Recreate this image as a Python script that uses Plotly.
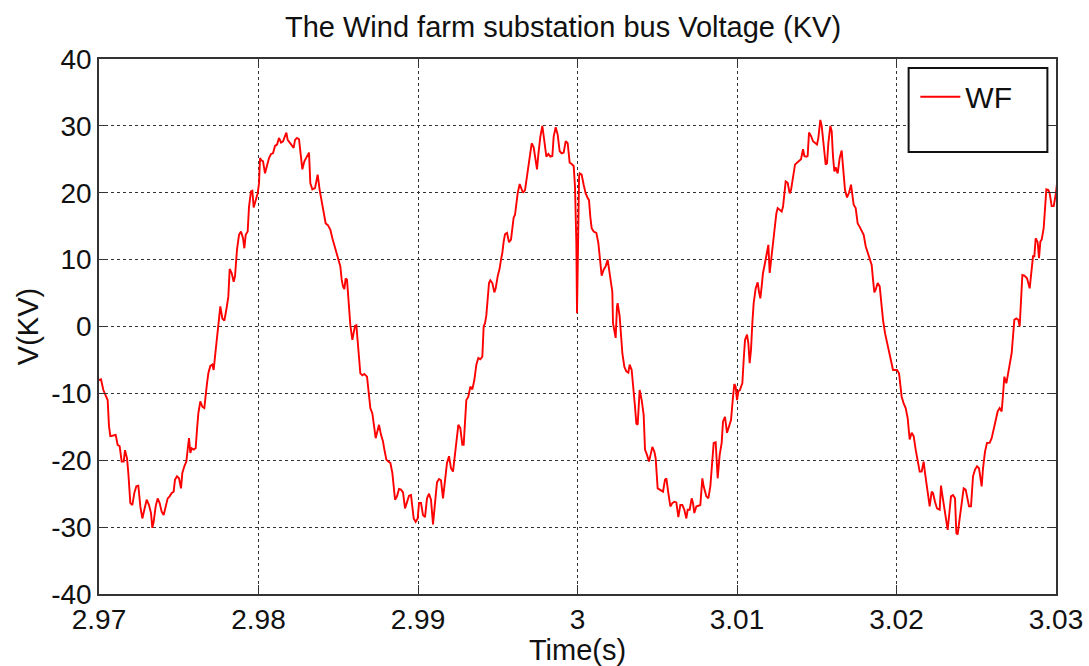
import plotly.graph_objects as go

# ---- data (time in s, voltage in kV) ----
time_s = [
    2.970000, 2.970125, 2.970272, 2.970418, 2.970543, 2.970627, 2.970710, 2.970899, 2.971045, 2.971170,
    2.971296, 2.971421, 2.971546, 2.971630, 2.971755, 2.971839, 2.971964, 2.972090, 2.972215, 2.972341,
    2.972466, 2.972591, 2.972717, 2.972842, 2.972988, 2.973135, 2.973260, 2.973344, 2.973427, 2.973553,
    2.973678, 2.973804, 2.973929, 2.974054, 2.974180, 2.974305, 2.974431, 2.974556, 2.974681, 2.974765,
    2.974890, 2.975016, 2.975141, 2.975225, 2.975350, 2.975476, 2.975559, 2.975643, 2.975726, 2.975810,
    2.975935, 2.976061, 2.976144, 2.976228, 2.976353, 2.976479, 2.976604, 2.976688, 2.976771, 2.976855,
    2.976980, 2.977106, 2.977189, 2.977273, 2.977398, 2.977524, 2.977607, 2.977733, 2.977858, 2.977984,
    2.978109, 2.978193, 2.978318, 2.978443, 2.978527, 2.978652, 2.978778, 2.978903, 2.979029, 2.979112,
    2.979196, 2.979321, 2.979405, 2.979530, 2.979614, 2.979698, 2.979823, 2.979948, 2.980032, 2.980095,
    # second segment
    2.980157, 2.980283, 2.980408, 2.980533, 2.980659, 2.980784, 2.980910, 2.981035, 2.981160, 2.981286,
    2.981411, 2.981537, 2.981620, 2.981746, 2.981829, 2.981955, 2.982080, 2.982205, 2.982289, 2.982414,
    2.982540, 2.982665, 2.982749, 2.982874, 2.983041, 2.983167, 2.983250, 2.983376, 2.983543, 2.983710,
    2.983836, 2.983961, 2.984087, 2.984212, 2.984337, 2.984504, 2.984630, 2.984755, 2.984881, 2.985006,
    2.985131, 2.985215, 2.985299, 2.985382, 2.985466, 2.985549, 2.985633, 2.985758, 2.985884, 2.985967,
    2.986051, 2.986135, 2.986218, 2.986302, 2.986385, 2.986511, 2.986636, 2.986803, 2.986929, 2.987012,
    2.987138, 2.987221, 2.987347, 2.987431, 2.987556, 2.987681, 2.987807, 2.987890, 2.988016, 2.988141,
    2.988267, 2.988392, 2.988475, 2.988559, 2.988684, 2.988810, 2.988935, 2.989061, 2.989186, 2.989312,
    2.989437, 2.989562, 2.989646, 2.989730, 2.989855, 2.989981, 2.990064, 2.990127,
    # third segment
    2.990188, 2.990314, 2.990439, 2.990564, 2.990690, 2.990815, 2.990941, 2.991066, 2.991191, 2.991317,
    2.991442, 2.991568, 2.991693, 2.991818, 2.991944, 2.992069, 2.992195, 2.992320, 2.992445, 2.992529,
    2.992654, 2.992780, 2.992863, 2.992947, 2.993031, 2.993156, 2.993281, 2.993407, 2.993532, 2.993658,
    2.993783, 2.993908, 2.994034, 2.994117, 2.994201, 2.994285, 2.994368, 2.994452, 2.994535, 2.994661,
    2.994786, 2.994870, 2.994995, 2.995121, 2.995204, 2.995288, 2.995371, 2.995455, 2.995580, 2.995706,
    2.995831, 2.995915, 2.995998, 2.996082, 2.996166, 2.996249, 2.996375, 2.996458, 2.996584, 2.996709,
    2.996834, 2.997002, 2.997127, 2.997252, 2.997378, 2.997461, 2.997545, 2.997670, 2.997796, 2.997921,
    2.998047, 2.998172, 2.998297, 2.998423, 2.998506, 2.998632, 2.998757, 2.998883, 2.999008, 2.999133,
    2.999259, 2.999384, 2.999510, 2.999635, 2.999760, 2.999844, 2.999928, 2.999969, 3.000020, 3.000100,
    # fourth segment
    3.000136, 3.000261, 3.000386, 3.000512, 3.000637, 3.000721, 3.000804, 3.000888, 3.001013, 3.001181,
    3.001306, 3.001431, 3.001515, 3.001640, 3.001766, 3.001891, 3.001975, 3.002100, 3.002184, 3.002226,
    3.002309, 3.002393, 3.002476, 3.002518, 3.002644, 3.002727, 3.002811, 3.002936, 3.003062, 3.003187,
    3.003271, 3.003396, 3.003521, 3.003605, 3.003689, 3.003772, 3.003898, 3.004023, 3.004148, 3.004232,
    3.004357, 3.004483, 3.004608, 3.004692, 3.004817, 3.004901, 3.005026, 3.005193, 3.005361, 3.005486,
    3.005570, 3.005695, 3.005821, 3.005946, 3.006071, 3.006197, 3.006322, 3.006447, 3.006573, 3.006698,
    3.006824, 3.006907, 3.007033, 3.007158, 3.007242, 3.007325, 3.007451, 3.007576, 3.007701, 3.007827,
    3.007910, 3.008078, 3.008203, 3.008329, 3.008454, 3.008538, 3.008663, 3.008788, 3.008914, 3.009039,
    3.009123, 3.009248, 3.009374, 3.009499, 3.009624, 3.009750, 3.009833, 3.009917, 3.010001, 3.010084,
    3.010189,
    # fifth segment
    3.010251, 3.010335, 3.010418, 3.010502, 3.010627, 3.010711, 3.010795, 3.010878, 3.010962, 3.011045,
    3.011171, 3.011296, 3.011380, 3.011463, 3.011547, 3.011631, 3.011756, 3.011881, 3.011965, 3.012049,
    3.012132, 3.012216, 3.012341, 3.012467, 3.012550, 3.012676, 3.012801, 3.012885, 3.012968, 3.013052,
    3.013177, 3.013303, 3.013386, 3.013512, 3.013637, 3.013762, 3.013888, 3.014013, 3.014139, 3.014222,
    3.014348, 3.014431, 3.014515, 3.014640, 3.014766, 3.014891, 3.015016, 3.015100, 3.015225, 3.015309,
    3.015434, 3.015560, 3.015643, 3.015727, 3.015852, 3.015936, 3.016020, 3.016103, 3.016187, 3.016312,
    3.016438, 3.016563, 3.016647, 3.016772, 3.016897, 3.017023, 3.017148, 3.017232, 3.017315, 3.017441,
    3.017566, 3.017692, 3.017817, 3.017942, 3.018068, 3.018193, 3.018319, 3.018444, 3.018528, 3.018611,
    3.018695, 3.018820, 3.018946, 3.019029, 3.019155, 3.019280, 3.019405, 3.019531, 3.019656, 3.019782,
    3.019907, 3.020032, 3.020158, 3.020220,
    # sixth segment
    3.020324, 3.020449, 3.020575, 3.020700, 3.020826, 3.020951, 3.021076, 3.021202, 3.021327, 3.021453,
    3.021578, 3.021703, 3.021787, 3.021912, 3.021996, 3.022080, 3.022205, 3.022289, 3.022414, 3.022539,
    3.022707, 3.022790, 3.022874, 3.022999, 3.023125, 3.023208, 3.023334, 3.023417, 3.023543, 3.023668,
    3.023752, 3.023835, 3.023961, 3.024086, 3.024211, 3.024337, 3.024462, 3.024546, 3.024671, 3.024797,
    3.024922, 3.025047, 3.025173, 3.025256, 3.025340, 3.025424, 3.025549, 3.025674, 3.025842, 3.025967,
    3.026092, 3.026218, 3.026343, 3.026469, 3.026594, 3.026678, 3.026761, 3.026887, 3.027012, 3.027137,
    3.027221, 3.027305, 3.027388, 3.027514, 3.027639, 3.027723, 3.027806, 3.027890, 3.028015, 3.028183,
    3.028350, 3.028475, 3.028559, 3.028643, 3.028726, 3.028851, 3.028935, 3.029019, 3.029102, 3.029228,
    3.029311, 3.029395, 3.029520, 3.029604, 3.029729, 3.029855, 3.029980, 3.030064,
]

voltage_kv = [
    -8.0, -7.9, -9.5, -10.2, -11.0, -14.9, -16.4, -16.3, -16.2, -17.7,
    -17.9, -20.2, -20.2, -18.5, -19.7, -21.9, -26.4, -26.7, -24.9, -23.9,
    -23.8, -26.9, -28.7, -27.4, -25.9, -26.7, -27.9, -30.1, -29.2, -26.9,
    -25.7, -26.4, -27.7, -28.2, -26.9, -25.7, -25.4, -24.9, -24.7, -22.9,
    -22.4, -22.7, -24.2, -21.9, -20.9, -20.2, -18.4, -16.7, -18.9, -18.2,
    -18.4, -18.2, -15.4, -13.0, -11.2, -12.0, -12.2, -10.0, -8.5, -7.0,
    -5.9, -5.7, -6.5, -4.5, -1.5, 1.2, 3.0, 1.2, 0.9, 2.5,
    4.5, 8.6, 8.0, 6.7, 7.5, 11.5, 13.7, 14.2, 13.2, 11.7,
    13.7, 14.2, 17.9, 20.2, 20.3, 17.8, 18.7, 19.9, 21.4, 25.2,
    # second segment
    24.9, 24.7, 22.9, 23.9, 25.2, 25.8, 25.9, 27.0, 27.2, 28.2,
    27.5, 27.7, 28.2, 29.0, 27.9, 27.5, 27.0, 26.7, 27.9, 28.2,
    28.0, 25.4, 23.5, 24.7, 25.4, 26.0, 21.4, 20.5, 20.7, 22.7,
    20.4, 18.5, 16.9, 15.4, 15.2, 14.5, 13.2, 12.2, 11.0, 10.0,
    9.0, 7.0, 6.0, 5.6, 7.2, 7.0, 4.0, 0.2, -2.0, -1.0,
    0.1, 0.2, -2.5, -5.0, -7.0, -7.3, -7.1, -7.5, -10.0, -12.2,
    -13.0, -14.5, -16.7, -15.9, -14.7, -16.2, -17.2, -18.4, -19.9, -20.2,
    -20.4, -21.9, -23.9, -25.9, -25.4, -24.3, -24.4, -24.8, -27.2, -26.4,
    -25.3, -25.2, -26.9, -28.7, -29.2, -28.7, -26.4, -26.4,
    # third segment
    -26.4, -28.2, -28.5, -25.7, -25.0, -25.9, -29.6, -26.4, -23.3, -22.8,
    -23.0, -25.7, -23.4, -20.4, -19.4, -21.2, -21.7, -18.9, -16.2, -14.7,
    -15.2, -17.7, -17.7, -14.5, -11.0, -10.5, -9.0, -9.4, -8.0, -5.7,
    -4.7, -4.9, -4.5, 0.0, 0.5, 1.7, 4.0, 6.5, 6.9, 6.5,
    5.1, 5.7, 7.5, 8.7, 10.0, 11.0, 12.7, 13.8, 14.0, 12.6,
    13.0, 14.7, 16.3, 16.7, 18.4, 19.9, 21.3, 20.8, 20.0, 20.4,
    22.4, 25.4, 27.4, 26.8, 24.7, 23.5, 25.7, 28.4, 30.0, 27.9,
    25.4, 25.8, 25.4, 25.5, 28.4, 29.8, 28.7, 26.2, 25.9, 26.0,
    27.7, 27.4, 24.5, 24.3, 24.0, 20.9, 12.5, 2.0, 12.0, 22.5,
    # fourth segment
    22.9, 22.7, 21.2, 19.9, 19.2, 18.9, 16.4, 14.7, 14.2, 14.0,
    12.5, 9.5, 7.6, 8.5, 9.0, 10.0, 8.5, 6.5, 5.2, 0.5,
    -1.0, -1.7, 3.0, 3.5, 1.5, -1.5, -4.0, -6.0, -6.7, -6.9,
    -5.7, -6.5, -9.2, -12.0, -14.5, -14.7, -9.5, -11.0, -13.2, -18.4,
    -19.2, -20.2, -18.9, -18.0, -18.7, -19.7, -24.2, -24.4, -24.7, -22.9,
    -22.7, -24.9, -26.9, -26.4, -26.2, -26.3, -28.5, -26.7, -26.7, -27.4,
    -28.7, -27.4, -27.4, -25.7, -26.4, -27.9, -26.9, -26.8, -26.7, -22.7,
    -23.9, -25.4, -25.7, -23.9, -20.2, -17.4, -17.3, -22.7, -19.2, -17.4,
    -14.2, -13.5, -15.9, -14.9, -14.0, -10.5, -8.6, -9.0, -11.0, -9.7,
    -9.5,
    # fifth segment
    -9.0, -8.5, -5.0, -2.0, -1.2, -2.5, -5.5, -3.5, 0.5, 3.5,
    5.7, 6.6, 5.2, 4.2, 6.0, 8.0, 9.5, 11.5, 12.2, 8.0,
    10.0, 11.5, 14.0, 16.9, 17.7, 17.5, 17.2, 17.9, 19.5, 21.7,
    21.5, 19.9, 20.4, 22.4, 24.2, 24.5, 24.7, 25.0, 26.5, 25.5,
    25.4, 25.5, 29.0, 28.5, 27.7, 27.5, 27.2, 28.2, 30.9, 30.0,
    26.9, 24.2, 24.4, 27.4, 30.0, 29.2, 25.4, 23.2, 23.8, 22.9,
    25.2, 26.3, 23.9, 20.4, 19.3, 20.0, 21.2, 19.7, 18.2, 17.7,
    15.4, 14.9, 14.2, 13.7, 12.0, 11.0, 10.0, 9.2, 7.0, 5.1,
    5.5, 6.5, 6.0, 3.5, 1.0, -1.0, -2.5, -4.0, -5.0, -6.5,
    -6.5, -6.5, -7.0, -8.5,
    # sixth segment
    -10.5, -11.5, -12.2, -13.7, -16.9, -15.9, -16.4, -18.4, -20.4, -21.7,
    -21.7, -20.2, -21.9, -23.9, -25.7, -26.9, -24.7, -24.9, -26.2, -27.2,
    -27.4, -23.8, -25.2, -27.2, -29.2, -30.4, -27.4, -25.4, -25.2, -25.7,
    -30.9, -31.1, -28.7, -26.4, -24.2, -24.4, -25.7, -26.9, -26.9, -22.4,
    -21.4, -20.9, -21.2, -22.4, -23.9, -21.2, -18.7, -17.4, -17.4, -16.7,
    -15.4, -14.0, -12.7, -12.2, -12.7, -10.2, -7.5, -8.5, -7.0, -5.5,
    -4.0, -1.5, 1.0, 1.2, 1.0, 0.0, 4.5, 7.7, 7.6, 7.2,
    5.7, 8.5, 10.5, 10.5, 13.2, 12.6, 10.2, 12.7, 13.0, 14.7,
    17.9, 20.5, 20.4, 19.9, 18.0, 18.0, 19.7, 21.4,
]

x_tick_vals = [2.97, 2.98, 2.99, 3.00, 3.01, 3.02, 3.03]
x_tick_text = ["2.97", "2.98", "2.99", "3", "3.01", "3.02", "3.03"]
y_tick_vals = [-40, -30, -20, -10, 0, 10, 20, 30, 40]
y_tick_text = ["-40", "-30", "-20", "-10", "0", "10", "20", "30", "40"]

series_name = "WF"
title_text = "The Wind farm substation bus Voltage (KV)"
x_title = "Time(s)"
y_title = "V(KV)"

FONT = "Liberation Sans, Arial, sans-serif"

fig = go.Figure()
fig.add_trace(go.Scatter(
    x=time_s, y=voltage_kv, mode="lines", name=series_name,
    line=dict(color="#ff0000", width=1.9),
))

axis_common = dict(
    showline=True, linecolor="#333333", linewidth=1.5, mirror="ticks",
    ticks="inside", ticklen=9, tickcolor="#333333", tickwidth=1,
    showgrid=True, gridcolor="#333333", gridwidth=1, griddash="dot",
    zeroline=False, automargin=False,
    tickfont=dict(family=FONT, size=28, color="#111111"),
)

fig.update_xaxes(
    range=[2.97, 3.03], tickmode="array", tickvals=x_tick_vals, ticktext=x_tick_text,
    title=dict(text=x_title, font=dict(family=FONT, size=29, color="#111111"), standoff=2),
    **axis_common,
)
fig.update_yaxes(
    range=[-40, 40], tickmode="array", tickvals=y_tick_vals, ticktext=y_tick_text,
    title=dict(text=y_title, font=dict(family=FONT, size=29, color="#111111"), standoff=4),
    **axis_common,
)

# legend box (white with black border)
fig.add_shape(type="rect", xref="paper", yref="paper",
              x0=0.846, x1=0.991, y0=0.826, y1=0.983,
              line=dict(color="#111111", width=2), fillcolor="white", layer="above")

fig.update_layout(
    width=1089, height=666,
    margin=dict(l=99, r=33, t=59, b=72),
    paper_bgcolor="white", plot_bgcolor="white",
    title=dict(text=title_text, x=0.517, xref="container", xanchor="center",
               y=0.96, yref="container", yanchor="middle",
               font=dict(family=FONT, size=29, color="#111111")),
    showlegend=True,
    legend=dict(x=0.853, y=0.978, xanchor="left", yanchor="top",
                bgcolor="rgba(0,0,0,0)", borderwidth=0,
                font=dict(family=FONT, size=30, color="#111111"),
                itemwidth=40),
)

fig.write_html("out.html")
